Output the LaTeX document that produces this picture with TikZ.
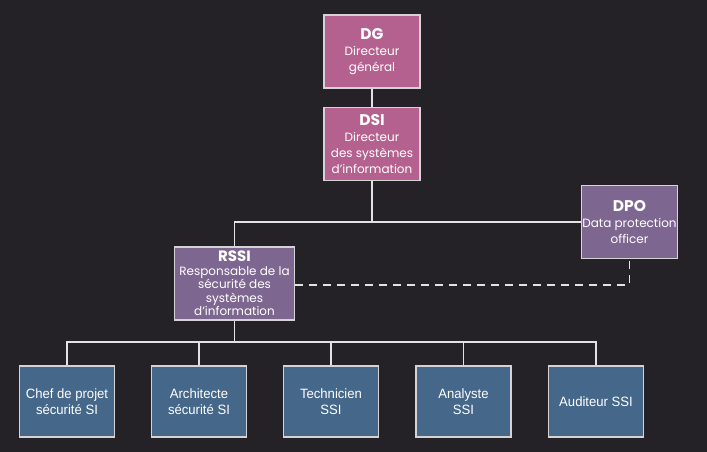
\documentclass[tikz,border=0pt]{standalone}
\usepackage{fontspec}
\setmainfont{Poppins}
\newfontfamily\condfont[FakeStretch=0.97]{Liberation Sans}
\definecolor{bgc}{HTML}{242226}
\definecolor{pinkc}{HTML}{B5618F}
\definecolor{purc}{HTML}{7D6690}
\definecolor{bluec}{HTML}{456789}
\definecolor{edgec}{HTML}{D4D4D4}
\definecolor{linec}{HTML}{E2E2E2}
\begin{document}
\begin{tikzpicture}[x=1pt,y=-1pt,
  box/.style={draw=edgec,line width=1.3pt,text=white,align=center,inner sep=1pt},
  topbox/.style={box,fill=pinkc,minimum width=96pt,minimum height=73pt,font=\fontsize{12}{16}\selectfont},
  midbox/.style={box,fill=purc,minimum height=73pt},
  botbox/.style={box,fill=bluec,minimum width=95pt,minimum height=71pt,font=\condfont\fontsize{13.5}{16.5}\selectfont},
  conn/.style={draw=linec,line width=1.4pt},
  dconn/.style={conn,dash pattern=on 8pt off 6pt}]
\fill[bgc] (0,0) rectangle (707,452);
\useasboundingbox (0,0) rectangle (707,452);
\node[topbox] (dg) at (372,51.5) {{\fontsize{15.5}{17}\selectfont\bfseries DG}\\Directeur\\général};
\node[topbox] (dsi) at (372,144) {{\fontsize{15.5}{17}\selectfont\bfseries DSI}\\Directeur\\des systèmes\\d’information};
\node[midbox,minimum width=95pt,font=\fontsize{12}{16}\selectfont] (dpo) at (629.5,222) {{\fontsize{15.5}{17}\selectfont\bfseries DPO}\\Data protection\\officer};
\node[midbox,minimum width=120pt,font=\fontsize{12}{13.6}\selectfont] (rssi) at (234.5,283.5) {{\fontsize{15}{14}\selectfont\bfseries RSSI}\\Responsable de la\\sécurité des\\systèmes\\d’information};
\node[botbox] (b1) at (67,401.5) {Chef de projet\\sécurité SI};
\node[botbox] (b2) at (199,401.5) {Architecte\\sécurité SI};
\node[botbox] (b3) at (331,401.5) {Technicien\\SSI};
\node[botbox] (b4) at (463.5,401.5) {Analyste\\SSI};
\node[botbox] (b5) at (596,401.5) {Auditeur SSI};
\coordinate (j1) at (372,222);
\coordinate (j2) at (234.5,342);
\draw[conn] (dg) -- (dsi);
\draw[conn] (dsi) -- (j1);
\draw[conn] (rssi.north) |- (dpo.west);
\draw[dconn] (rssi.east |- 0,285) -| (dpo.south);
\draw[conn] (rssi) -- (j2);
\draw[conn] (b1.north) |- (j2) -| (b5.north);
\foreach \b in {b2,b3,b4} \draw[conn] (\b.north) -- (\b.north |- j2);
\end{tikzpicture}
\end{document}
